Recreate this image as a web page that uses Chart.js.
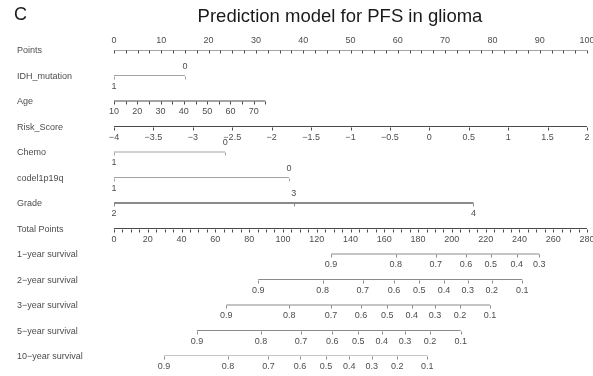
<!DOCTYPE html>
<html>
<head>
<meta charset="utf-8">
<title>Nomogram PFS</title>
<script src="https://cdn.jsdelivr.net/npm/chart.js@4.4.1/dist/chart.umd.min.js"></script>
<style>
    html, body { margin: 0; padding: 0; background: #fff; }
    #wrap { width: 593px; height: 376px; }
</style>
</head>
<body>
<div id="wrap"><canvas id="nomo" width="593" height="376"></canvas></div>
<script>
// ============= Dados do nomograma =====================

const panelTag = 'C'
const chartTitle = 'Prediction model for PFS in glioma'

// escala de pontos (0-100) e de pontos totais (0-280)
const pointLabels = [0, 10, 20, 30, 40, 50, 60, 70, 80, 90, 100]
const pointStep = 2.5
const totalLabels = [0, 20, 40, 60, 80, 100, 120, 140, 160, 180, 200, 220, 240, 260, 280]
const totalStep = 5

// variáveis categóricas: nível -> pontos
const idhLevels = ['1', '0']
const idhPoints = [0, 15]
const chemoLevels = ['1', '0']
const chemoPoints = [0, 23.5]
const codelLevels = ['1', '0']
const codelPoints = [0, 37]
const gradeLevels = ['2', '3', '4']
const gradePoints = [0, 38, 76]

// variáveis contínuas: faixa de valores -> faixa de pontos
const ageRange = [10, 75]
const agePoints = [0, 32]
const ageTicks = [10, 15, 20, 25, 30, 35, 40, 45, 50, 55, 60, 65, 70, 75]
const ageLabels = [10, 20, 30, 40, 50, 60, 70]
const riskRange = [-4, 2]
const riskPoints = [0, 100]
const riskLabels = [-4, -3.5, -3, -2.5, -2, -1.5, -1, -0.5, 0, 0.5, 1, 1.5, 2]

// sobrevida: probabilidade -> pontos totais
const surv1Probs = [0.9, 0.8, 0.7, 0.6, 0.5, 0.4, 0.3]
const surv1Total = [128.5, 166.8, 190.4, 208.4, 223, 238.4, 251.8]
const survProbs = [0.9, 0.8, 0.7, 0.6, 0.5, 0.4, 0.3, 0.2, 0.1]
const surv2Total = [85.4, 123.5, 147.2, 165.8, 180.7, 195.4, 209.4, 223.6, 241.7]
const surv3Total = [66.5, 103.8, 128.5, 146.2, 161.8, 176.2, 190, 204.8, 222.6]
const surv5Total = [49.1, 87, 110.7, 129.2, 144.6, 158.5, 172.3, 187.1, 205.2]
const surv10Total = [29.6, 67.5, 91.4, 110.1, 125.5, 139.3, 152.6, 167.7, 185.5]

// ============= Montagem das linhas =====================

const dark = '#4a4a4a'
const light = '#a3a3a3'
const mid = '#8a8a8a'
const textColor = '#4d4d4d'
const fontFamily = "'Liberation Sans', Arial, Helvetica, sans-serif"

function seq(a, b, s) {
    const out = []
    for (let v = a; v <= b + 1e-9; v += s) out.push(+v.toFixed(4))
    return out
}

function toPts(v, range, pts) {
    return pts[0] + (v - range[0]) / (range[1] - range[0]) * (pts[1] - pts[0])
}

function fmt(v) {
    return String(v).replace('-', '\u2212')
}

function levelRow(name, levels, pts, color, width) {
    return {
        name, scale: 'x', color, width: width || 1,
        ticks: pts,
        labels: levels.map((t, i) => ({ at: pts[i], text: t, side: i % 2 ? -1 : 1 }))
    }
}

function survRow(name, probs, totals) {
    return {
        name, scale: 'tp', color: mid, width: 1,
        ticks: totals,
        labels: probs.map((p, i) => ({ at: totals[i], text: String(p), side: 1 }))
    }
}

const rows = [
    {
        name: 'Points', scale: 'x', color: dark, width: 1,
        ticks: seq(0, 100, pointStep),
        labels: pointLabels.map(v => ({ at: v, text: String(v), side: -1 }))
    },
    levelRow('IDH_mutation', idhLevels, idhPoints, light),
    {
        name: 'Age', scale: 'x', color: dark, width: 1,
        ticks: ageTicks.map(v => toPts(v, ageRange, agePoints)),
        labels: ageLabels.map(v => ({ at: toPts(v, ageRange, agePoints), text: String(v), side: 1 }))
    },
    {
        name: 'Risk_Score', scale: 'x', color: dark, width: 1,
        ticks: riskLabels.map(v => toPts(v, riskRange, riskPoints)),
        labels: riskLabels.map(v => ({ at: toPts(v, riskRange, riskPoints), text: fmt(v), side: 1 }))
    },
    levelRow('Chemo', chemoLevels, chemoPoints, light),
    levelRow('codel1p19q', codelLevels, codelPoints, light),
    levelRow('Grade', gradeLevels, gradePoints, mid, 2),
    {
        name: 'Total Points', scale: 'tp', color: dark, width: 1,
        ticks: seq(0, 280, totalStep),
        labels: totalLabels.map(v => ({ at: v, text: String(v), side: 1 }))
    },
    survRow('1\u2212year survival', surv1Probs, surv1Total),
    survRow('2\u2212year survival', survProbs, surv2Total),
    survRow('3\u2212year survival', survProbs, surv3Total),
    survRow('5\u2212year survival', survProbs, surv5Total),
    survRow('10\u2212year survival', survProbs, surv10Total)
]

// cada linha do nomograma vira um dataset de linha horizontal
const datasets = rows.map((r, i) => ({
    label: r.name,
    xAxisID: r.scale,
    data: [
        { x: Math.min(...r.ticks), y: i },
        { x: Math.max(...r.ticks), y: i }
    ],
    borderColor: r.color,
    borderWidth: r.width,
    pointRadius: 0,
    fill: false
}))

// ticks, rótulos e títulos desenhados sobre as escalas do gráfico
const nomogramText = {
    id: 'nomogramText',
    afterDatasetsDraw(chart) {
        const ctx = chart.ctx
        const yScale = chart.scales.y
        ctx.save()

        rows.forEach((r, i) => {
            const xScale = chart.scales[r.scale]
            const y = Math.round(yScale.getPixelForValue(i)) + 0.5

            ctx.strokeStyle = r.color
            ctx.lineWidth = 1
            ctx.beginPath()
            r.ticks.forEach(t => {
                const x = Math.round(xScale.getPixelForValue(t)) + 0.5
                ctx.moveTo(x, y)
                ctx.lineTo(x, y + 3)
            })
            ctx.stroke()

            ctx.fillStyle = textColor
            ctx.font = '9px ' + fontFamily
            ctx.textAlign = 'center'
            ctx.textBaseline = 'middle'
            r.labels.forEach(l => {
                ctx.fillText(l.text, xScale.getPixelForValue(l.at), y + l.side * 10)
            })

            ctx.textAlign = 'left'
            ctx.fillText(r.name, 17, y)
        })

        ctx.fillStyle = '#1a1a1a'
        ctx.textBaseline = 'alphabetic'
        ctx.font = '18px ' + fontFamily
        ctx.textAlign = 'left'
        ctx.fillText(panelTag, 14, 20)
        ctx.textAlign = 'center'
        ctx.font = '18.5px ' + fontFamily
        ctx.fillText(chartTitle, 340, 22)

        ctx.restore()
    }
}

document.addEventListener('DOMContentLoaded', function () {
    const ctx = document.getElementById('nomo').getContext('2d')

    new Chart(ctx, {
        type: 'line',
        data: { datasets: datasets },
        options: {
            responsive: false,
            animation: false,
            layout: {
                padding: { left: 114, right: 6, top: 50, bottom: 20 }
            },
            scales: {
                x: { type: 'linear', min: 0, max: 100, display: false },
                tp: { type: 'linear', axis: 'x', min: 0, max: 280, display: false },
                y: { type: 'linear', min: 0, max: 12, reverse: true, display: false }
            },
            plugins: {
                legend: { display: false },
                tooltip: { enabled: false }
            }
        },
        plugins: [nomogramText]
    })
})
</script>
</body>
</html>
